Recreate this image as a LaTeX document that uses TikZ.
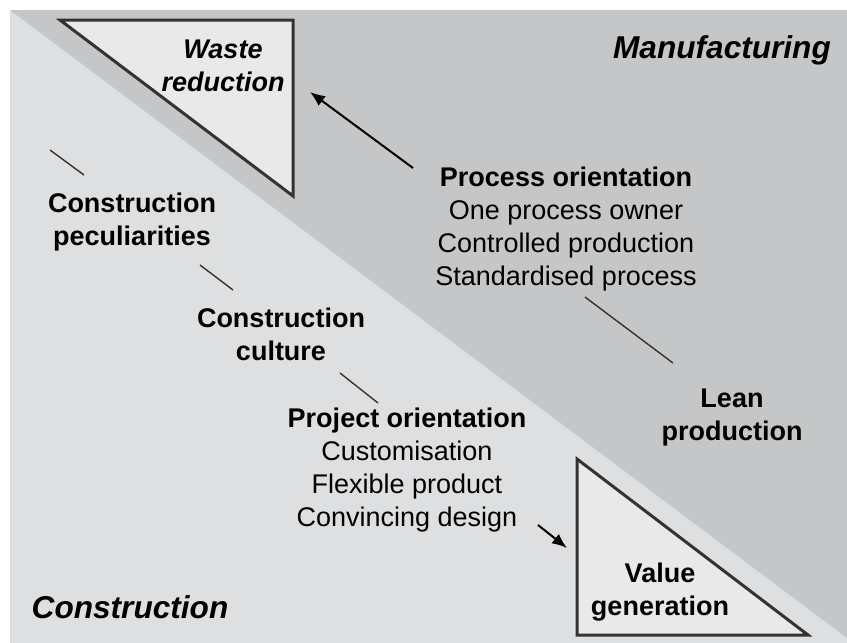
\documentclass[tikz,border=0pt]{standalone}
\usepackage{fontspec}
\setmainfont{Liberation Sans}
\usetikzlibrary{arrows.meta}
\definecolor{constr}{RGB}{222,223,225}
\definecolor{manuf}{RGB}{197,198,200}
\definecolor{trifill}{RGB}{233,233,234}

\begin{document}
\begin{tikzpicture}[x=0.5pt,y=-0.5pt,
                    every path/.style={>={Latex[length=7.5pt,width=6pt]}},
                    every node/.style={align=center,inner sep=0pt,font=\fontsize{13.5}{16.5}\selectfont},
                    head/.style={font=\fontsize{13.5}{16.5}\selectfont\bfseries},
                    side/.style={font=\fontsize{15.8}{19}\selectfont\bfseries\itshape},
                    tri/.style={draw=black!80,line width=1.5pt,fill=trifill}]
  \useasboundingbox (0,0) rectangle (847,643);
  % the two halves
  \fill[constr] (10,10) rectangle (847,643);
  \fill[manuf]  (10,10) -- (847,10) -- (847,638) -- cycle;
  % corner triangles
  \draw[tri] (60,20) -- (293,20) -- (293,196) -- cycle;
  \draw[tri] (577,459) -- (577,635) -- (808,635) -- cycle;

  \node[side] (manu) at (722,50)  {Manufacturing};
  \node[side] (cons) at (130,607) {Construction};
  \node[head,font=\fontsize{13.5}{16.5}\selectfont\bfseries\itshape]
                  (waste) at (223,66)  {Waste\\reduction};
  \node[head]     (value) at (660,592) {Value\\generation};

  \node (proc) at (566,229) {\textbf{Process orientation}\\One process owner\\Controlled production\\Standardised process};
  \node[head] (lean) at (732,418) {Lean\\production};
  \node[head] (pecu) at (132,222) {Construction\\peculiarities};
  \node[head] (cult) at (281,334) {Construction\\culture};
  \node (proj) at (407,470) {\textbf{Project orientation}\\Customisation\\Flexible product\\Convincing design};

  % short strokes and arrows
  \coordinate (p1) at (413,168); \coordinate (p2) at (310,92);
  \coordinate (q1) at (538,525); \coordinate (q2) at (567,548);
  \draw[line width=1pt,->] (p1) -- (p2);
  \draw[line width=1pt,->] (q1) -- (q2);
  \draw[black!80,line width=0.7pt] (50,150) -- (84,175);
  \draw[black!80,line width=0.7pt] (200,265) -- (233,290);
  \draw[black!80,line width=0.7pt] (340,373) -- (378,403);
  \draw[black!80,line width=0.7pt] (585,297) -- (673,363);
\end{tikzpicture}
\end{document}
